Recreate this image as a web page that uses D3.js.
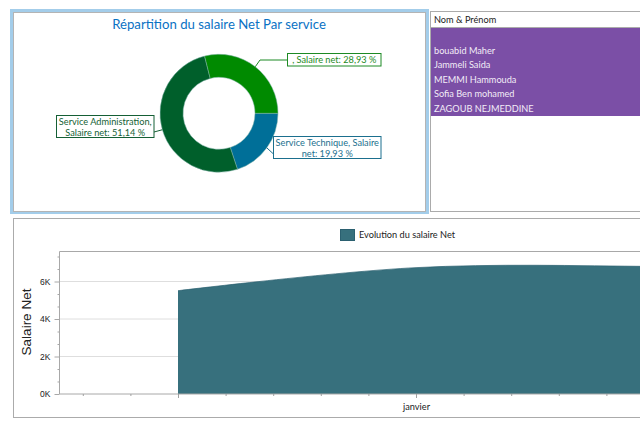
<!DOCTYPE html>
<html>
<head>
<meta charset="utf-8">
<script src="https://d3js.org/d3.v7.min.js"></script>
<style>
  html, body { margin: 0; padding: 0; background: #fff; overflow: hidden; }
  text { font-family: Lato, sans-serif; }
</style>
</head>
<body>
<svg id="page" width="640" height="426"></svg>
<script>
// donut
var services = ["Service Technique", "Service Administration", ""];
var shares = [19.93, 51.14, 28.93];
var serviceColors = ["#006f98", "#005f2b", "#008a00"];
var labelColors = ["#1b6f8e", "#155f35", "#1d8a24"];
var labelLines = [
  ["Service Technique, Salaire", "net: 19,93 %"],
  ["Service Administration,", "Salaire net: 51,14 %"],
  [", Salaire net: 28,93 %"]
];

// employee list
var listHeader = "Nom & Prénom";
var employees = ["", "bouabid Maher", "Jammeli Saida", "MEMMI Hammouda", "Sofia Ben mohamed", "ZAGOUB NEJMEDDINE"];

// area chart
var months = [0, 1, 2, 3];
var monthLabels = ["", "janvier", "", ""];
var netSalary = [5510, 6740, 6800, 6500];
var yMajor = [0, 2000, 4000, 6000];
var yMinor = [667, 1333, 2667, 3333, 4667, 5333, 6667, 7333];
var xMinor = [-0.4, -0.2, 0.2, 0.4, 0.6, 0.8, 1.2, 1.4, 1.6, 1.8];

var svg = d3.select("#page");

// top left frame
svg.append("rect").attr("x", 11.5).attr("y", 10.5).attr("width", 416).attr("height", 202)
  .attr("fill", "#fff").attr("stroke", "#a3cdea").attr("stroke-width", 3);
svg.append("rect").attr("x", 13.5).attr("y", 12.5).attr("width", 412).attr("height", 199)
  .attr("fill", "none").attr("stroke", "#b4b4b4").attr("stroke-width", 1);

svg.append("text").attr("x", 219).attr("y", 29).attr("text-anchor", "middle")
  .attr("font-size", 13.2).attr("fill", "#0a72c4").text("Répartition du salaire Net Par service");

var cx = 219, cy = 113.3, outerR = 59, innerR = 36;
var pie = d3.pie().sort(null).startAngle(Math.PI / 2).endAngle(Math.PI * 2.5);
var arc = d3.arc().innerRadius(innerR).outerRadius(outerR);
var edge = d3.arc().innerRadius(outerR).outerRadius(outerR);
var slices = pie(shares);

var donut = svg.append("g").attr("transform", "translate(" + cx + "," + cy + ")");
donut.selectAll("path").data(slices).enter().append("path")
  .attr("d", arc)
  .attr("fill", (d, i) => serviceColors[i])
  .attr("stroke", "#7fb3a8").attr("stroke-width", 0.5);

var boxes = [
  { x: 273.5, y: 136.5, w: 107.5, h: 22, bx: 273.5, by: 154 },
  { x: 56.5, y: 115.5, w: 97.5, h: 22, bx: 154, by: 132 },
  { x: 287.5, y: 53.5, w: 93.5, h: 12.5, bx: 287.5, by: 60 }
];
var elbow = [null, null, [260, 60]];

boxes.forEach(function (b, i) {
  var p = edge.centroid(slices[i]);
  var pts = [[cx + p[0], cy + p[1]]];
  if (elbow[i]) pts.push(elbow[i]);
  pts.push([b.bx, b.by]);
  svg.append("path").attr("d", d3.line()(pts)).attr("fill", "none")
    .attr("stroke", labelColors[i]).attr("stroke-width", 1);
  svg.append("rect").attr("x", b.x).attr("y", b.y).attr("width", b.w).attr("height", b.h)
    .attr("fill", "#fff").attr("stroke", labelColors[i]).attr("stroke-width", 1);
  labelLines[i].forEach(function (line, k) {
    svg.append("text").attr("x", b.x + b.w / 2).attr("y", b.y + 9.5 + k * 10.5)
      .attr("text-anchor", "middle").attr("font-size", 9.2)
      .attr("fill", labelColors[i]).text(line);
  });
});

// employee list panel
svg.append("rect").attr("x", 430.5).attr("y", 11.5).attr("width", 230).attr("height", 200)
  .attr("fill", "#fff").attr("stroke", "#ababab");
svg.append("line").attr("x1", 431).attr("x2", 640).attr("y1", 27.5).attr("y2", 27.5).attr("stroke", "#ababab");
svg.append("rect").attr("x", 431).attr("y", 28).attr("width", 209).attr("height", 88).attr("fill", "#7b4fa6");
svg.append("text").attr("x", 434).attr("y", 22.5).attr("font-size", 9.2).attr("fill", "#222").text(listHeader);
svg.selectAll("text.emp").data(employees).enter().append("text")
  .attr("class", "emp")
  .attr("x", 434)
  .attr("y", (d, i) => 39 + i * 14.6)
  .attr("font-size", 9.2).attr("fill", "#f2ecf7")
  .text(d => d);

// bottom frame
svg.append("rect").attr("x", 13.5).attr("y", 218.5).attr("width", 660).attr("height", 199)
  .attr("fill", "#fff").attr("stroke", "#ababab");

var plotTop = 251.5, plotBottom = 394, plotLeft = 59.5, plotRight = 700;
var x = d3.scaleLinear().domain([0, 1]).range([178, 416]);
var y = d3.scaleLinear().domain([0, 7600]).range([plotBottom, plotTop]);

// grid under the area
svg.append("g").selectAll("line").data(yMajor.slice(1)).enter().append("line")
  .attr("x1", plotLeft).attr("x2", plotRight)
  .attr("y1", d => y(d)).attr("y2", d => y(d))
  .attr("stroke", "#dedede");

var area = d3.area().x((d, i) => x(months[i])).y0(y(0)).y1(d => y(d)).curve(d3.curveCatmullRom.alpha(0));
var top_ = d3.line().x((d, i) => x(months[i])).y(d => y(d)).curve(d3.curveCatmullRom.alpha(0));
svg.append("path").datum(netSalary).attr("d", area).attr("fill", "#37707d");
svg.append("path").datum(netSalary).attr("d", top_).attr("fill", "none").attr("stroke", "#2b6070").attr("stroke-width", 0.7);

// plot border, left and top and bottom
svg.append("path").attr("d", d3.line()([[plotRight, plotTop], [plotLeft, plotTop], [plotLeft, plotBottom], [plotRight, plotBottom]]))
  .attr("fill", "none").attr("stroke", "#a8a8a8");

var yAxis = d3.axisLeft(y).tickValues(yMajor).tickSize(5).tickPadding(4).tickFormat(d => (d / 1000) + "K");
var gy = svg.append("g").attr("transform", "translate(" + plotLeft + ",0)").call(yAxis);
gy.select(".domain").remove();
gy.selectAll("line").attr("stroke", "#a8a8a8");
gy.selectAll("text").attr("font-size", 8.5).attr("fill", "#222").attr("font-weight", 500)
  .style("font-family", "'Liberation Sans', sans-serif");

var yAxisMinor = d3.axisLeft(y).tickValues(yMinor).tickSize(2).tickFormat("");
var gyMinor = svg.append("g").attr("transform", "translate(" + plotLeft + ",0)").call(yAxisMinor);
gyMinor.select(".domain").remove();
gyMinor.selectAll("line").attr("stroke", "#a8a8a8");

var xAxis = d3.axisBottom(x).tickValues(months.slice(0, 3)).tickSize(4).tickPadding(5).tickFormat((d, i) => monthLabels[i]);
var gx = svg.append("g").attr("transform", "translate(0," + plotBottom + ")").call(xAxis);
gx.select(".domain").remove();
gx.selectAll("line").attr("stroke", "#a0a0a0");
gx.selectAll("text").attr("font-size", 9.2).attr("fill", "#222")
  .style("font-family", "Lato, sans-serif");

var xAxisMinor = d3.axisBottom(x).tickValues(xMinor).tickSize(2).tickFormat("");
var gxMinor = svg.append("g").attr("transform", "translate(0," + plotBottom + ")").call(xAxisMinor);
gxMinor.select(".domain").remove();
gxMinor.selectAll("line").attr("stroke", "#a0a0a0");

svg.append("text").attr("transform", "translate(30.5,322) rotate(-90)")
  .attr("text-anchor", "middle").attr("font-size", 13.5).attr("fill", "#222")
  .style("font-family", "'Liberation Sans', sans-serif").text("Salaire Net");

// legend
svg.append("rect").attr("x", 340.5).attr("y", 229.5).attr("width", 14).attr("height", 11)
  .attr("fill", "#37707d").attr("stroke", "#2b6070");
svg.append("text").attr("x", 359).attr("y", 238).attr("font-size", 9.2).attr("fill", "#222").text("Evolution du salaire Net");
</script>
</body>
</html>
